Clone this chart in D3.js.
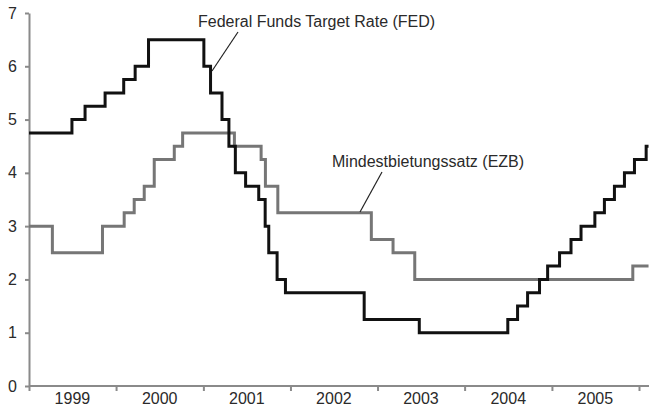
<!DOCTYPE html>
<html>
<head>
<meta charset="utf-8">
<script src="https://cdn.jsdelivr.net/npm/d3@7"></script>
<style>
	body { margin: 0; background: #fff; }
	svg text { font-family: "Liberation Sans", Arial, Helvetica, sans-serif; fill: #2a2a2a; }
	.axis path, .axis line { stroke: #8a8a8a; stroke-width: 2; }
	.line { fill: none; stroke-width: 3; stroke-linejoin: miter; }
</style>
</head>
<body>
<script>
// Leitzinsen FED vs. EZB, 1999 - Anfang 2006
var years = [1999, 2000, 2001, 2002, 2003, 2004, 2005];
var yTicks = [0, 1, 2, 3, 4, 5, 6, 7];

var fedDates = ["1999-01-01", "1999-06-30", "1999-08-24", "1999-11-16", "2000-02-02", "2000-03-21",
	"2000-05-16", "2001-01-03", "2001-01-31", "2001-03-20", "2001-04-18", "2001-05-15", "2001-06-27",
	"2001-08-21", "2001-09-17", "2001-10-02", "2001-11-06", "2001-12-11", "2002-11-06", "2003-06-25",
	"2004-06-30", "2004-08-10", "2004-09-21", "2004-11-10", "2004-12-14", "2005-02-02", "2005-03-22",
	"2005-05-03", "2005-06-30", "2005-08-09", "2005-09-20", "2005-11-01", "2005-12-13", "2006-01-31"];
var fedRates = [4.75, 5.0, 5.25, 5.5, 5.75, 6.0, 6.5, 6.0, 5.5, 5.0, 4.5, 4.0, 3.75, 3.5, 3.0, 2.5, 2.0,
	1.75, 1.25, 1.0, 1.25, 1.5, 1.75, 2.0, 2.25, 2.5, 2.75, 3.0, 3.25, 3.5, 3.75, 4.0, 4.25, 4.5];

var ezbDates = ["1999-01-01", "1999-04-09", "1999-11-05", "2000-02-04", "2000-03-17", "2000-04-28",
	"2000-06-09", "2000-09-01", "2000-10-06", "2001-05-11", "2001-08-31", "2001-09-18", "2001-11-09",
	"2002-12-06", "2003-03-07", "2003-06-06", "2005-12-06"];
var ezbRates = [3.0, 2.5, 3.0, 3.25, 3.5, 3.75, 4.25, 4.5, 4.75, 4.5, 4.25, 3.75, 3.25, 2.75, 2.5, 2.0, 2.25];

var endDate = "2006-02-10";

var parse = d3.timeParse("%Y-%m-%d");

function toSeries(dates, rates) {
	var pts = dates.map(function(d, i) { return { date: parse(d), rate: rates[i] }; });
	pts.push({ date: parse(endDate), rate: rates[rates.length - 1] });
	return pts;
}

var fed = toSeries(fedDates, fedRates);
var ezb = toSeries(ezbDates, ezbRates);

var width = 649, height = 415;
var x0 = 29, yBottom = 386, yTop = 13;

var x = d3.scaleTime()
	.domain([new Date(1999, 0, 1), new Date(2006, 0, 1)])
	.range([x0, 639]);
var y = d3.scaleLinear()
	.domain([0, 7])
	.range([yBottom, yTop]);

var svg = d3.select("body").append("svg")
	.attr("width", width)
	.attr("height", height);

// x axis: tick marks at year boundaries, labels in the middle of each year
var xAxis = svg.append("g")
	.attr("class", "axis")
	.attr("transform", "translate(0," + yBottom + ")")
	.call(d3.axisBottom(x)
		.tickValues(years.map(function(yr) { return new Date(yr, 0, 1); }).concat([new Date(2006, 0, 1)]))
		.tickSize(5)
		.tickSizeOuter(0)
		.tickFormat(""));
xAxis.select(".domain").attr("d", "M" + x0 + ",0H" + width);

svg.selectAll(".year")
	.data(years)
	.join("text")
	.attr("class", "year")
	.attr("x", function(d) { return x(new Date(d, 6, 2)); })
	.attr("y", 403.5)
	.attr("text-anchor", "middle")
	.style("font-size", "16px")
	.text(function(d) { return d; });

// y axis
var yAxis = svg.append("g")
	.attr("class", "axis")
	.attr("transform", "translate(" + x0 + ",0)")
	.call(d3.axisLeft(y)
		.tickValues(yTicks)
		.tickFormat(d3.format("d"))
		.tickSize(4)
		.tickSizeOuter(0)
		.tickPadding(8));
yAxis.selectAll("text")
	.style("font-size", "16px")
	.style("fill", "#2a2a2a");

var line = d3.line()
	.x(function(d) { return x(d.date); })
	.y(function(d) { return y(d.rate); })
	.curve(d3.curveStepAfter);

svg.append("path")
	.datum(ezb)
	.attr("class", "line")
	.attr("stroke", "#767676")
	.attr("d", line);

svg.append("path")
	.datum(fed)
	.attr("class", "line")
	.attr("stroke", "#111")
	.attr("d", line);

// annotations
svg.append("line")
	.attr("x1", 238).attr("y1", 32)
	.attr("x2", 212).attr("y2", 71)
	.attr("stroke", "#222").attr("stroke-width", 1.2);
svg.append("text")
	.attr("x", 198).attr("y", 26.5)
	.style("font-size", "16px")
	.text("Federal Funds Target Rate (FED)");

svg.append("line")
	.attr("x1", 382).attr("y1", 172)
	.attr("x2", 360).attr("y2", 212)
	.attr("stroke", "#222").attr("stroke-width", 1.2);
svg.append("text")
	.attr("x", 332).attr("y", 166.5)
	.style("font-size", "16px")
	.text("Mindestbietungssatz (EZB)");
</script>
</body>
</html>
